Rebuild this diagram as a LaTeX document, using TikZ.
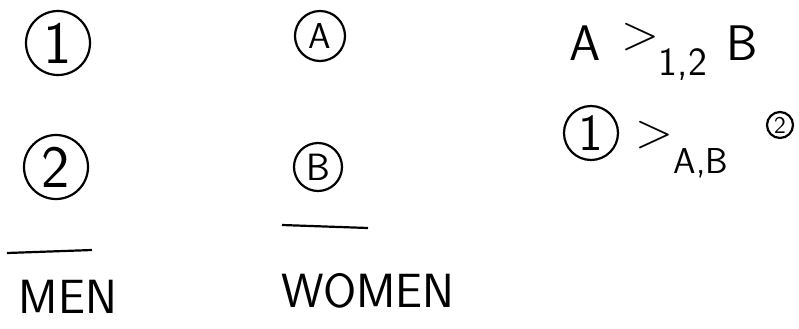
\documentclass[tikz,border=0pt]{standalone}
\usetikzlibrary{positioning}

\begin{document}
\begin{tikzpicture}[
  x=0.5pt, y=-0.5pt,
  font=\sffamily,
  person/.style={circle, draw, line width=1.1pt, inner sep=0pt},
  side/.style={font=\sffamily\fontsize{24}{26}\selectfont},
  pref/.style={font=\sffamily\fontsize{25}{28}\selectfont, inner sep=0pt}
]
\useasboundingbox (0,0) rectangle (799,328);

% Men on the left.
\node[person, minimum size=32pt, font=\sffamily\fontsize{30}{32}\selectfont] (m1) at (58,43) {1};
\node[person, minimum size=32pt, font=\sffamily\fontsize{30}{32}\selectfont] (m2) at (56,167) {2};

% Women in the middle.
\node[person, minimum size=25pt, font=\sffamily\fontsize{18}{20}\selectfont] (wA) at (320,36) {A};
\node[person, minimum size=24pt, font=\sffamily\fontsize{19}{21}\selectfont] (wB) at (318,167) {B};

% Underlines and group names.
\coordinate (menL) at (7,253);
\coordinate (menR) at (92,250);
\coordinate (womL) at (282,225);
\coordinate (womR) at (368,228);
\draw[line width=1.1pt] (menL) -- (menR);
\draw[line width=1.1pt] (womL) -- (womR);
\node[side] (men) at (68,297) {MEN};
\node[side] (women) at (368,291) {WOMEN};

% Preference of the men.
\node[pref] (pA) at (585,43) {A};
\node[pref] (pRel) at (664,52) {{\fontsize{34}{36}\selectfont$>$}\raisebox{-1.2ex}{\fontsize{20}{22}\selectfont 1,2}};
\node[pref] (pB) at (742,43) {B};

% Preference of the women.
\node[person, minimum size=27pt, font=\sffamily\fontsize{26}{28}\selectfont] (q1) at (591,133) {1};
\node[pref] (qRel) at (682,150) {{\fontsize{34}{36}\selectfont$>$}\raisebox{-1.2ex}{\fontsize{18}{20}\selectfont A,B}};
\node[person, minimum size=13pt, font=\sffamily\fontsize{12}{13}\selectfont] (q2) at (780,125) {2};

\end{tikzpicture}
\end{document}
